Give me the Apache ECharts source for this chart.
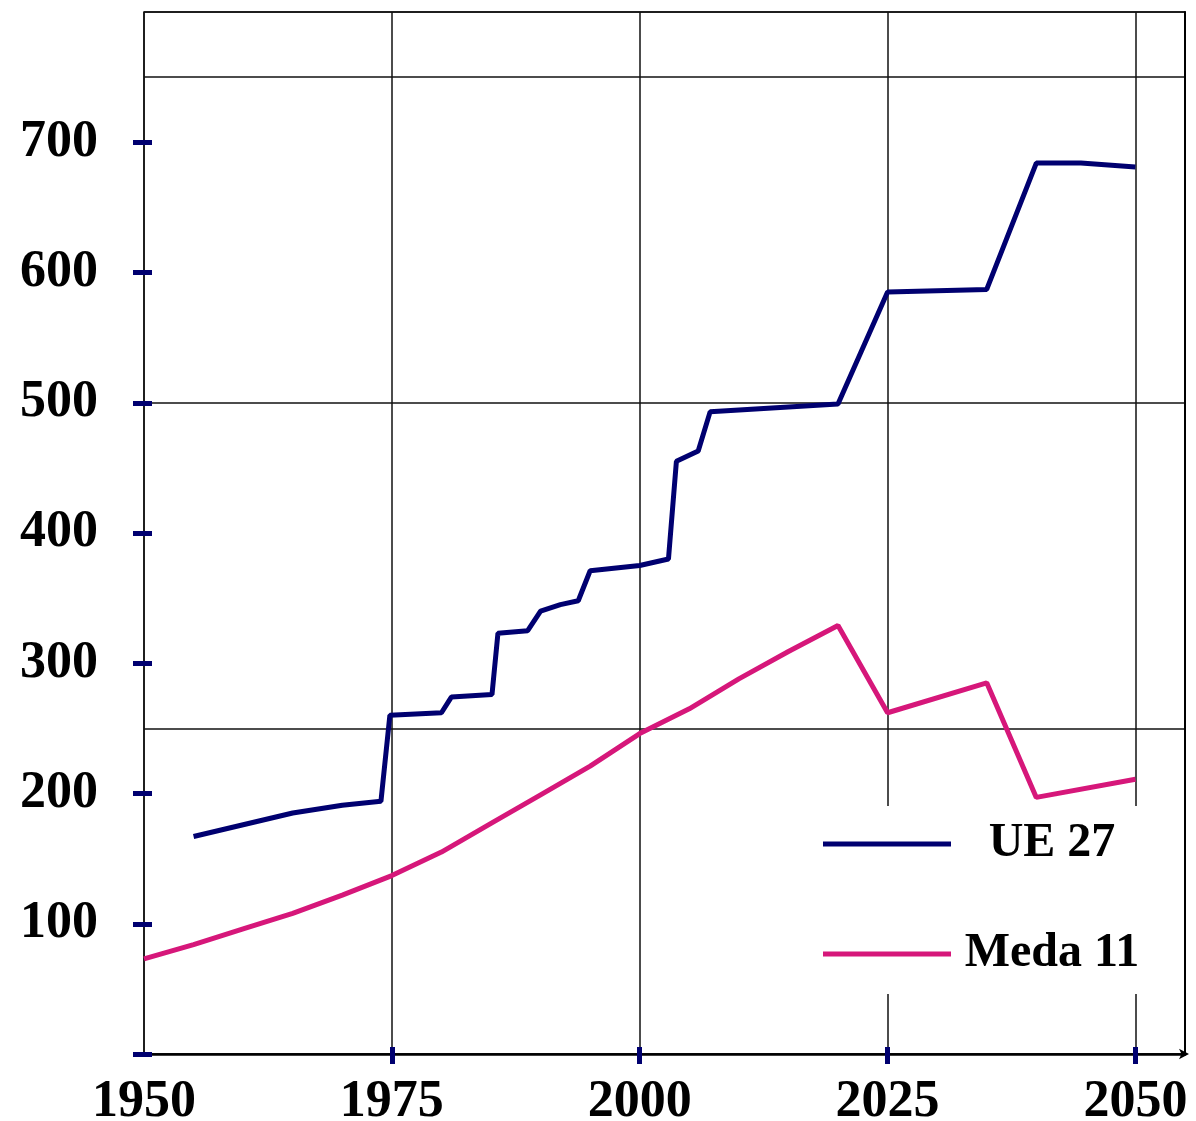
<!DOCTYPE html>
<html>
<head>
<meta charset="utf-8">
<script src="https://cdn.jsdelivr.net/npm/echarts@6/dist/echarts.min.js"></script>
<style>
html,body{margin:0;padding:0;background:#fff;}
#c{width:1196px;height:1121px;}
</style>
</head>
<body>
<div id="c"></div>
<script>
// ---- data ----
var ueYears   = [1955, 1960, 1965, 1970, 1973.9, 1974.8, 1980, 1981, 1985.1, 1985.7, 1988.7, 1990, 1992, 1993.8, 1995, 2000, 2002.9, 2003.7, 2005.9, 2007.1, 2020, 2025, 2035, 2040, 2044.5, 2050];
var ueValues  = [167, 176, 185, 191, 194, 260, 262, 274, 276, 323, 325, 340, 345, 348, 371, 375, 380, 455, 463, 493, 499, 585, 587, 684, 684, 681];
var medaYears = [1950, 1955, 1960, 1965, 1970, 1975, 1980, 1985, 1990, 1995, 2000, 2005, 2010, 2015, 2020, 2025, 2035, 2040, 2050];
var medaValues= [73, 84, 96, 108, 122, 137, 155, 177, 199, 221, 246, 265, 288, 309, 329, 262, 285, 197, 211];
var seriesNames = ['UE 27', 'Meda 11'];
var yTickLabels = [100, 200, 300, 400, 500, 600, 700];
var yTickMarks  = [0, 100, 200, 300, 400, 500, 600, 700];
var xTickLabels = [1950, 1975, 2000, 2025, 2050];
var xTickMarks  = [1975, 2000, 2025, 2050];

function pairs(xs, ys){ return xs.map(function(x,i){ return [x, ys[i]]; }); }

var FONT = 'Liberation Serif';
var NAVY = '#000070';
var PINK = '#d6177a';

var chart = echarts.init(document.getElementById('c'), null, {renderer:'canvas'});
chart.setOption({
  backgroundColor: '#fff',
  animation: false,
  grid: { left: 144, right: 11, top: 12, bottom: 67, outerBoundsMode: 'none', containLabel: false,
          show: true, borderColor: '#111', borderWidth: 1.5 },
  xAxis: [
    { // labels + ticks
      type: 'value', min: 1950, max: 2055, offset: -7,
      axisLine: { show: false },
      axisTick: { show: true, length: 17, customValues: xTickMarks, lineStyle: { color: NAVY, width: 5 } },
      axisLabel: { show: true, customValues: xTickLabels, margin: 30,
        formatter: function(v){ return String(v); },
        fontFamily: FONT, fontWeight: 'bold', fontSize: 52, color: '#000' },
      splitLine: { show: false }
    },
    { // axis line + grid lines
      type: 'value', min: 1950, max: 2055, interval: 25,
      axisLine: { show: true, lineStyle: { color: '#000', width: 2.5 }, symbol: ['none', 'arrow'], symbolSize: [8, 10], symbolOffset: [0, 4] },
      axisTick: { show: false },
      axisLabel: { show: false },
      splitLine: { show: true, lineStyle: { color: '#111', width: 1.5 } }
    }
  ],
  yAxis: [
    { // labels + ticks
      type: 'value', min: 0, max: 800, offset: -8,
      axisLine: { show: false },
      axisTick: { show: true, length: 19, customValues: yTickMarks, lineStyle: { color: NAVY, width: 5 } },
      axisLabel: { show: true, customValues: yTickLabels, margin: 54, padding: [6, 0, 0, 0],
        formatter: function(v){ return String(v); },
        fontFamily: FONT, fontWeight: 'bold', fontSize: 52, color: '#000' },
      splitLine: { show: false }
    },
    { // axis line + grid lines
      type: 'value', min: 0, max: 800, interval: 250,
      axisLine: { show: true, lineStyle: { color: '#000', width: 2 } },
      axisTick: { show: false },
      axisLabel: { show: false },
      splitLine: { show: true, lineStyle: { color: '#111', width: 1.5 } }
    }
  ],
  legend: {
    orient: 'vertical', left: 805, top: 806,
    padding: [14, 20, 16, 18],
    backgroundColor: '#fff',
    selectedMode: false,
    icon: 'rect', itemWidth: 128, itemHeight: 5,
    itemGap: 62,
    data: seriesNames,
    formatter: function(name){ return '{c|' + name + '}'; },
    textStyle: {
      rich: { c: { width: 192, align: 'center', fontFamily: FONT, fontWeight: 'bold', fontSize: 48, lineHeight: 60, color: '#000' } }
    }
  },
  series: [
    { name: seriesNames[0], type: 'line', xAxisIndex: 1, yAxisIndex: 1, data: pairs(ueYears, ueValues),
      symbol: 'none', lineStyle: { color: NAVY, width: 5 }, itemStyle: { color: NAVY }, z: 3 },
    { name: seriesNames[1], type: 'line', xAxisIndex: 1, yAxisIndex: 1, data: pairs(medaYears, medaValues),
      symbol: 'none', lineStyle: { color: PINK, width: 5 }, itemStyle: { color: PINK }, z: 3 }
  ]
});
</script>
</body>
</html>
